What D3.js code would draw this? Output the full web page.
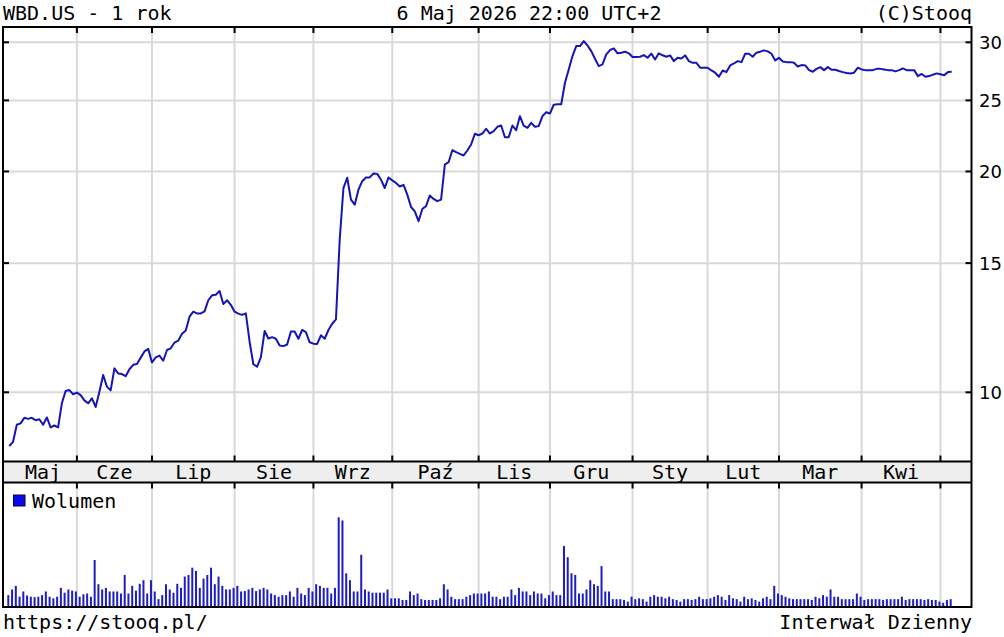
<!DOCTYPE html>
<html><head><meta charset="utf-8">
<script src="https://cdn.jsdelivr.net/npm/d3@7"></script>
<style>body{margin:0;background:#fff}svg{display:block}</style>
</head><body><svg id="c" width="1004" height="637"></svg>
<script>
// ---- data (daily trading sessions, index 0 = 6 May 2025) ----
const prices = [
 8.45, 8.56, 9.03, 9.07, 9.23, 9.20, 9.23, 9.16, 9.19, 9.03, 9.24, 8.96, 9.01, 8.96,
 9.66, 10.04, 10.07, 9.94, 9.99, 9.91, 9.75, 9.66, 9.81, 9.55, 10.02, 10.56, 10.18, 10.06,
 10.78, 10.61, 10.59, 10.52, 10.75, 10.90, 10.93, 11.15, 11.37, 11.46, 10.98, 11.16, 11.22, 11.04,
 11.42, 11.48, 11.69, 11.76, 12.02, 12.14, 12.68, 12.88, 12.81, 12.81, 12.89, 13.35, 13.56, 13.58,
 13.74, 13.19, 13.35, 13.16, 12.88, 12.80, 12.75, 12.81, 11.72, 10.92, 10.84, 11.16, 12.12, 11.84,
 11.89, 11.83, 11.58, 11.56, 11.62, 12.10, 12.10, 11.83, 12.16, 12.08, 11.70, 11.65, 11.64, 11.96,
 11.83, 12.16, 12.40, 12.57,
 16.14, 18.99, 19.61, 18.31, 18.02, 18.89, 19.40, 19.63, 19.63, 19.87, 19.85, 19.49, 18.99, 19.63,
 19.45, 19.29, 19.08, 19.18, 18.60, 17.89, 17.64, 17.11, 17.78, 17.94, 18.55, 18.35, 18.22, 18.31,
 20.44, 20.59, 21.38, 21.25, 21.14, 21.03, 21.36, 21.77, 22.51, 22.41, 22.53, 22.87, 22.53, 22.70,
 23.01, 23.10, 22.27, 22.27, 23.10, 22.77, 23.79, 23.10, 22.94, 23.30, 23.01, 23.06, 23.79, 24.09,
 23.99, 24.66, 24.69, 24.69, 26.42, 27.55, 28.73, 29.65, 29.65, 30.11, 29.70, 29.18, 28.49, 27.84,
 27.99, 28.88, 29.28, 29.43, 28.98, 29.04, 29.13, 28.98, 28.64, 28.64, 28.67, 28.82, 28.58, 28.95,
 28.43, 28.98, 28.80, 28.67,
 28.79, 28.28, 28.58, 28.52, 28.79, 28.28, 28.13, 28.13, 27.70, 27.70, 27.70, 27.46, 27.27, 26.93,
 27.46, 27.32, 27.90, 28.07, 28.28, 28.19, 28.94, 28.94, 28.67, 29.04, 29.13, 29.25, 29.16, 28.94,
 28.34, 28.58, 28.25, 28.19, 28.19, 28.13, 27.81, 27.93, 27.90, 27.49, 27.35, 27.60, 27.75, 27.49,
 27.75, 27.52, 27.52, 27.41, 27.32, 27.24, 27.21, 27.27, 27.70, 27.55, 27.49, 27.49, 27.49, 27.60,
 27.60, 27.55, 27.49, 27.49, 27.38, 27.49, 27.64, 27.49, 27.49, 27.49, 26.98, 27.16, 26.93, 26.98,
 27.10, 27.21, 27.13, 27.05, 27.32, 27.35
];
const volumes = [ // millions of shares
 27, 41, 50, 23, 36, 26, 23, 22, 23, 27, 36, 23, 19, 23,
 45, 33, 41, 38, 36, 23, 29, 31, 23, 114, 54, 41, 45, 36,
 36, 36, 31, 77, 31, 50, 38, 55, 64, 31, 64, 36, 17, 27,
 54, 41, 33, 55, 45, 73, 77, 95, 87, 45, 68, 77, 95, 54,
 73, 50, 41, 41, 45, 50, 36, 37, 41, 45, 37, 41, 45, 41,
 31, 27, 23, 27, 27, 36, 23, 45, 31, 27, 45, 36, 54, 50,
 45, 45, 31, 45, 220, 212, 81, 64, 36, 36, 127, 41, 36, 33,
 33, 33, 33, 41, 19, 19, 19, 15, 15, 36, 27, 31, 17, 15,
 15, 15, 15, 19, 54, 41, 23, 17, 17, 17, 23, 27, 31, 31,
 31, 31, 36, 23, 23,
 17, 23, 23, 41, 27, 45, 36, 36, 27, 36, 31, 31, 19, 27,
 36, 27, 27, 149, 121, 81, 77, 31, 31, 41, 64, 54, 50, 99,
 36, 36, 17, 17, 17, 15, 11, 23, 17, 19, 17, 11, 23, 27,
 23, 23, 19, 23, 17, 15, 11, 17, 17, 15, 17, 23, 17, 17,
 19, 23, 27, 23, 15, 27, 19, 17, 11, 23, 17, 19, 15, 11,
 19, 23, 17, 50, 31, 27, 23, 19, 17, 17, 17, 17, 17, 15,
 23, 19, 27, 23, 41, 23, 23, 17, 17, 17, 17, 31, 23, 15,
 17, 17, 17, 17, 15, 17, 17, 17, 17, 23, 15, 17, 17, 17,
 17, 15, 17, 15, 15, 11, 8, 15, 17
];
const monthStarts = [18, 38, 60, 81, 102, 125, 144, 166, 186, 205, 227, 248];
const monthLabels = ["Maj","Cze","Lip","Sie","Wrz","Paź","Lis","Gru","Sty","Lut","Mar","Kwi"];
const priceTicks = [10, 15, 20, 25, 30];
const titleLeft = "WBD.US - 1 rok";
const titleCenter = "6 Maj 2026 22:00 UTC+2";
const titleRight = "(C)Stooq";
const footLeft = "https://stooq.pl/";
const footRight = "Interwał Dzienny";
const legendLabel = "Wolumen";

// ---- layout ----
const L = 3, R = 971.5, T = 27, bandTop = 461.5, bandBot = 482.5, B = 607;
const mono = "'DejaVu Sans Mono', monospace";
const svg = d3.select("#c");
const x = d3.scaleLinear().domain([0, prices.length - 1]).range([9.3, 951.7]);
const y = d3.scaleLog().domain([10, 30]).range([392.3, 42.3]);
const yv = d3.scaleLinear().domain([0, 300]).range([606, 485]);
const grid = "#d9d9d9";

svg.append("rect").attr("width", 1004).attr("height", 637).attr("fill", "#fff");
// month band
svg.append("rect").attr("x", L).attr("y", bandTop).attr("width", R - L).attr("height", bandBot - bandTop).attr("fill", "#eeeeee");

// gridlines
svg.append("g").selectAll("line").data(priceTicks).join("line")
  .attr("x1", L).attr("x2", R).attr("y1", d => y(d)).attr("y2", d => y(d))
  .attr("stroke", grid).attr("stroke-width", 2);
svg.append("g").selectAll("line").data(monthStarts).join("line")
  .attr("x1", d => x(d)).attr("x2", d => x(d)).attr("y1", T).attr("y2", bandTop)
  .attr("stroke", grid).attr("stroke-width", 2);
svg.append("g").selectAll("line").data(monthStarts).join("line")
  .attr("x1", d => x(d)).attr("x2", d => x(d)).attr("y1", bandBot).attr("y2", B)
  .attr("stroke", grid).attr("stroke-width", 2);

// price line
svg.append("path").datum(prices)
  .attr("d", d3.line().x((d, i) => x(i)).y(d => y(d)))
  .attr("fill", "none").attr("stroke", "#1515b5").attr("stroke-width", 2).attr("stroke-linejoin", "round");

// volume bars
svg.append("g").selectAll("rect").data(volumes).join("rect")
  .attr("x", (d, i) => x(i) - 2).attr("width", 2)
  .attr("y", d => yv(d)).attr("height", d => yv(0) - yv(d))
  .attr("fill", "#1e1ec0");

// frame
const frame = svg.append("g").attr("stroke", "#000").attr("stroke-width", 2).attr("fill", "none");
frame.append("rect").attr("x", L).attr("y", T).attr("width", R - L).attr("height", B - T);
frame.append("line").attr("x1", L).attr("x2", R).attr("y1", bandTop).attr("y2", bandTop);
frame.append("line").attr("x1", L).attr("x2", R).attr("y1", bandBot).attr("y2", bandBot);

// ticks
const tk = svg.append("g").attr("stroke", "#000").attr("stroke-width", 2);
monthStarts.forEach(m => {
  const xx = x(m);
  tk.append("line").attr("x1", xx).attr("x2", xx).attr("y1", T).attr("y2", T + 6);
  tk.append("line").attr("x1", xx).attr("x2", xx).attr("y1", bandTop - 6).attr("y2", bandTop);
  tk.append("line").attr("x1", xx).attr("x2", xx).attr("y1", bandBot).attr("y2", bandBot + 6);
});
priceTicks.forEach(t => {
  tk.append("line").attr("x1", L).attr("x2", L + 6).attr("y1", y(t)).attr("y2", y(t));
  tk.append("line").attr("x1", R - 6).attr("x2", R).attr("y1", y(t)).attr("y2", y(t));
});

// y labels
svg.append("g").selectAll("text").data(priceTicks).join("text")
  .attr("x", 979).attr("y", d => y(d) + 7)
  .attr("font-family", "'DejaVu Sans', sans-serif").attr("font-size", 18).attr("fill", "#000")
  .text(d => d);

// month labels
const bounds = [0].concat(monthStarts);
svg.append("g").selectAll("text").data(monthLabels).join("text")
  .attr("x", (d, i) => (x(bounds[i]) + x(bounds[i + 1])) / 2)
  .attr("y", 479).attr("text-anchor", "middle")
  .attr("font-family", mono).attr("font-size", 20).attr("fill", "#000")
  .text(d => d);

// titles
function txt(s, xx, yy, anchor) {
  svg.append("text").attr("x", xx).attr("y", yy).attr("text-anchor", anchor)
    .attr("font-family", mono).attr("font-size", 20).attr("fill", "#000").text(s);
}
txt(titleLeft, 3, 20, "start");
txt(titleCenter, 529, 20, "middle");
txt(titleRight, 972, 20, "end");
txt(footLeft, 3, 629, "start");
txt(footRight, 972, 629, "end");

// legend
svg.append("rect").attr("x", 13.5).attr("y", 495).attr("width", 11.5).attr("height", 11)
  .attr("fill", "#0a0ae6").attr("stroke", "#000050").attr("stroke-width", 1);
txt(legendLabel, 32, 508, "start");
</script></body></html>
